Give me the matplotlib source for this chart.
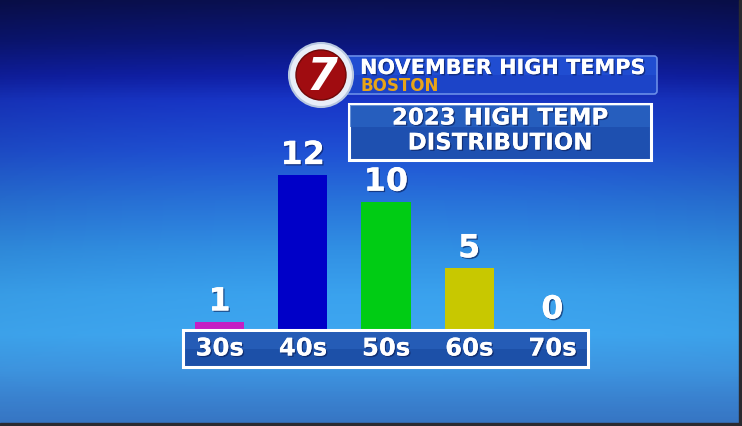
import numpy as np
import matplotlib
matplotlib.use("Agg")
import matplotlib.pyplot as plt
from matplotlib.colors import LinearSegmentedColormap
from matplotlib.patches import Rectangle, Circle, FancyBboxPatch
import matplotlib.patheffects as pe

# chart data
categories = ["30s", "40s", "50s", "60s", "70s"]
counts = [1, 12, 10, 5, 0]
bar_colors = ["#c41ec4", "#0000c8", "#00cc14", "#c8c800", "#c8c800"]

title = "NOVEMBER HIGH TEMPS"
subtitle = "BOSTON"
box_lines = ["2023 HIGH TEMP", "DISTRIBUTION"]

W, H = 742, 426
fig = plt.figure(figsize=(W / 100, H / 100), dpi=100)

# background gradient, pixel coordinates
bg = fig.add_axes([0, 0, 1, 1])
bg.set_xlim(0, W)
bg.set_ylim(H, 0)
bg.axis("off")
stops = [(0, "#0a1050"), (40, "#0b1678"), (75, "#1020a8"), (100, "#1836c8"),
         (150, "#1f50d4"), (200, "#2872da"), (250, "#3190e4"), (295, "#3aa2ee"),
         (335, "#3ea6f0"), (370, "#3e96e2"), (400, "#3a82d0"), (426, "#3674c2")]
cmap = LinearSegmentedColormap.from_list("bg", [(y / H, c) for y, c in stops])
yy = np.linspace(0, 1, H)[:, None]
xx = np.linspace(-1, 1, W)[None, :]
img = cmap(yy * np.ones((1, W)))[:, :, :3]
vign = 1 - 0.12 * xx ** 2 * (1 - yy)
img = img * vign[:, :, None]
bg.imshow(img, extent=[0, W, H, 0], aspect="auto", zorder=0)
# dark frame edges
bg.add_patch(Rectangle((W - 3, 0), 3, H, color="#2a2a30", zorder=1))
bg.add_patch(Rectangle((0, H - 3), W, 3, color="#2a2a30", zorder=1))

shadow = [pe.withSimplePatchShadow(offset=(1, -1), shadow_rgbFace="#0a1a50", alpha=0.6), pe.Normal()]

# header banner
bg.add_patch(FancyBboxPatch((338, 56), 319, 38, boxstyle="round,pad=0,rounding_size=3",
                            facecolor="#1c44c8", edgecolor="#6a8ee8", lw=1.2, zorder=2))
bg.add_patch(Rectangle((339, 57), 317, 18, facecolor="#2454d8", edgecolor="none", zorder=2, alpha=0.6))
bg.text(360, 68, title, color="white", fontsize=15, fontweight="bold", va="center",
        ha="left", zorder=4, path_effects=shadow)
bg.text(361, 86, subtitle, color="#e8a418", fontsize=12, fontweight="bold", va="center",
        ha="left", zorder=4)

# logo
bg.add_patch(Circle((321, 75), 32, facecolor="#e8eef8", edgecolor="#b8c8e0", lw=1.5, zorder=5))
bg.add_patch(Circle((321, 75), 25, facecolor="#a00c10", edgecolor="#700808", lw=1, zorder=6))
bg.text(322, 77, "7", color="white", fontsize=32, fontweight="bold", fontstyle="italic",
        ha="center", va="center", zorder=7)

# title box
bg.add_patch(Rectangle((349, 104), 302, 56, facecolor="#1e50b0", edgecolor="white", lw=2.2, zorder=2))
bg.add_patch(Rectangle((350, 105), 300, 22, facecolor="#2a64c4", edgecolor="none", zorder=2, alpha=0.7))
bg.text(500, 118, box_lines[0], color="white", fontsize=16.5, fontweight="bold",
        ha="center", va="center", zorder=4, path_effects=shadow)
bg.text(500, 143, box_lines[1], color="white", fontsize=16.5, fontweight="bold",
        ha="center", va="center", zorder=4, path_effects=shadow)

# bar chart axes: baseline at y=335px (hidden under the label strip), 13.3px per unit, 83px per category
ax = fig.add_axes([178 / W, (H - 335) / H, 416 / W, 213 / H])
ax.patch.set_alpha(0)
x = np.arange(len(categories))
ax.bar(x, counts, width=0.59, color=bar_colors, zorder=3)
ax.set_xlim(-0.5, len(categories) - 0.5)
ax.set_ylim(0, 16)
ax.axis("off")

for xi, v in zip(x, counts):
    ax.annotate(str(v), (xi, max(v, 0.4)), xytext=(0, 3), textcoords="offset points",
                ha="center", va="bottom", color="white", fontsize=23, fontweight="bold",
                zorder=5, path_effects=shadow)

# category label strip (pixels 330-367 -> data units)
ppu = 213 / 16
top = 5 / ppu
bot = -32 / ppu
ax.add_patch(Rectangle((-0.44, bot), 4.87, top - bot, facecolor="#1c50a8", edgecolor="white",
                       lw=2.2, clip_on=False, zorder=4))
ax.add_patch(Rectangle((-0.42, bot + 0.5 * (top - bot)), 4.83, 0.45 * (top - bot), facecolor="#2a62bc",
                       edgecolor="none", clip_on=False, zorder=4, alpha=0.7))
for xi, lab in zip(x, categories):
    ax.text(xi, -13.5 / ppu, lab, ha="center", va="center", color="white", fontsize=17.5,
            fontweight="bold", clip_on=False, zorder=6, path_effects=shadow)

fig.savefig("out.png", dpi=100)
